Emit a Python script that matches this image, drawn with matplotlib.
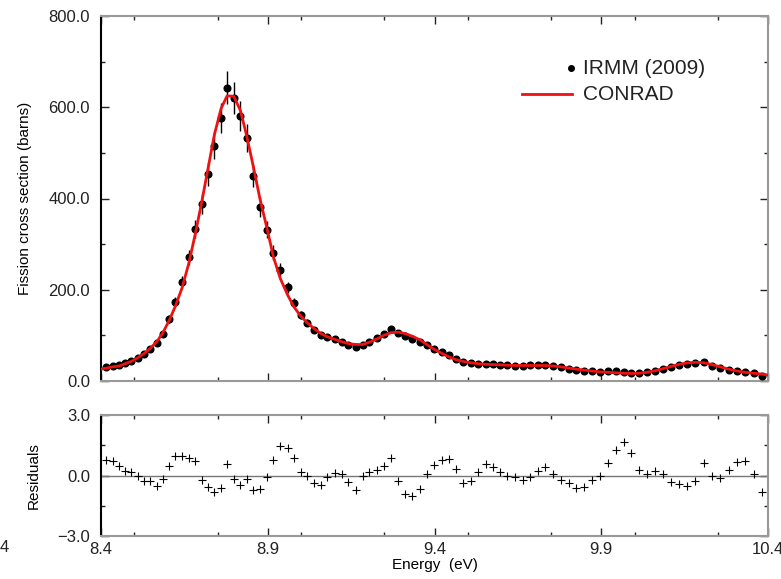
import numpy as np
import matplotlib
matplotlib.use('Agg')
import matplotlib.pyplot as plt
from matplotlib.ticker import MultipleLocator

plt.rcParams['font.family'] = ['Liberation Sans', 'DejaVu Sans']

# measured points (IRMM 2009)
energy = [8.415, 8.435, 8.455, 8.473, 8.491, 8.510, 8.529, 8.547, 8.567, 8.585,
          8.604, 8.623, 8.643, 8.663, 8.682, 8.702, 8.721, 8.740, 8.760, 8.778,
          8.798, 8.818, 8.837, 8.857, 8.877, 8.898, 8.917, 8.938, 8.960, 8.979,
          8.999, 9.019, 9.039, 9.059, 9.079, 9.102, 9.122, 9.142, 9.164, 9.185,
          9.205, 9.227, 9.248, 9.270, 9.292, 9.312, 9.334, 9.357, 9.377, 9.398,
          9.421, 9.443, 9.463, 9.486, 9.508, 9.531, 9.553, 9.574, 9.596, 9.618,
          9.641, 9.664, 9.686, 9.709, 9.732, 9.756, 9.779, 9.802, 9.825, 9.848,
          9.872, 9.896, 9.919, 9.943, 9.967, 9.990, 10.013, 10.037, 10.061, 10.085,
          10.109, 10.133, 10.157, 10.182, 10.207, 10.232, 10.257, 10.282, 10.307, 10.332,
          10.357, 10.382]
sigma = [30, 33, 34, 39, 44, 51, 59, 70, 83, 104,
         136, 174, 217, 271, 333, 388, 453, 516, 577, 643,
         620, 580, 532, 450, 381, 332, 281, 244, 205, 172,
         144, 128, 112, 101, 97, 92, 86, 79, 75, 80,
         86, 94, 103, 114, 105, 99, 92, 86, 78, 70,
         63, 56, 48, 42, 39, 38, 37, 37, 36, 34,
         33, 33, 34, 34, 36, 33, 30, 27, 24, 23,
         21, 19, 21, 21, 19, 18, 17, 19, 23, 27,
         31, 36, 38, 40, 42, 33, 29, 25, 22, 19,
         17, 12]
sigma_err = [2.7, 2.8, 2.9, 3.1, 3.4, 3.8, 4.2, 4.9, 5.6, 6.7,
             8.5, 10.6, 12.9, 15.9, 19.3, 22.3, 25.9, 29.4, 32.7, 36.4,
             35.1, 32.9, 30.3, 25.8, 22.0, 19.3, 16.5, 14.4, 12.3, 10.5,
             8.9, 8.0, 7.2, 6.6, 6.3, 6.1, 5.7, 5.3, 5.1, 5.4,
             5.7, 6.2, 6.7, 7.3, 6.8, 6.4, 6.1, 5.7, 5.3, 4.9,
             4.5, 4.1, 3.6, 3.3, 3.1, 3.1, 3.0, 3.0, 3.0, 2.9,
             2.8, 2.8, 2.9, 2.9, 3.0, 2.8, 2.7, 2.5, 2.3, 2.3,
             2.2, 2.0, 2.2, 2.2, 2.0, 2.0, 1.9, 2.0, 2.3, 2.5,
             2.7, 3.0, 3.1, 3.2, 3.3, 2.8, 2.6, 2.4, 2.2, 2.0,
             1.9, 1.7]

# CONRAD fit curve
fit_energy = [8.400] + energy + [10.400]
fit_sigma = [26, 28, 31, 33, 38, 43, 51, 60, 71, 86, 105,
             132, 164, 204, 257, 320, 392, 466, 540, 597, 625,
             624, 593, 537, 469, 398, 334, 272, 224, 188, 162,
             142, 127, 115, 104, 97, 91, 86, 82, 80, 80,
             85, 92, 100, 106, 107, 104, 98, 90, 80, 70,
             61, 53, 47, 43, 40, 38, 36.5, 36, 35.5, 34.5,
             34, 34, 34, 34, 34, 33, 31, 28.5, 26, 24,
             22, 20, 19, 18, 17, 16.5, 17, 19, 22.5, 27,
             32, 36.5, 39.5, 41, 40, 36, 31, 26, 22, 19,
             17, 15, 13]

residuals = [0.75, 0.70, 0.47, 0.22, 0.17, -0.03, -0.28, -0.28, -0.52, -0.17,
             0.47, 0.97, 0.97, 0.88, 0.70, -0.20, -0.58, -0.83, -0.62, 0.55,
             -0.17, -0.47, -0.17, -0.72, -0.68, -0.08, 0.75, 1.45, 1.37, 0.87,
             0.17, 0.00, -0.37, -0.45, -0.08, 0.12, 0.05, -0.33, -0.70, -0.03,
             0.17, 0.25, 0.45, 0.88, -0.28, -0.92, -1.00, -0.67, 0.05, 0.53,
             0.75, 0.80, 0.33, -0.35, -0.28, 0.17, 0.55, 0.42, 0.17, -0.03,
             -0.07, -0.20, -0.07, 0.23, 0.42, 0.05, -0.20, -0.37, -0.62, -0.55,
             -0.22, -0.03, 0.62, 1.28, 1.68, 1.13, 0.28, 0.08, 0.22, 0.05,
             -0.33, -0.42, -0.50, -0.28, 0.62, -0.03, -0.12, 0.25, 0.67, 0.73,
             0.05, -0.83]

x_ticks = [8.4, 8.9, 9.4, 9.9, 10.4]
red = '#ee1111'

W, H = 781, 579
fig = plt.figure(figsize=(W / 100, H / 100), dpi=100)
ax1 = fig.add_axes([101 / W, 1 - 381 / H, 667 / W, 365 / H])
ax2 = fig.add_axes([101 / W, 1 - 536 / H, 667 / W, 121 / H])

ax1.errorbar(energy, sigma, yerr=sigma_err, fmt='o', color='black', ms=4.8,
             elinewidth=1.0, capsize=0, zorder=3)
ax1.plot(fit_energy, fit_sigma, color=red, lw=2.0, zorder=4)

ax2.axhline(0, color='#777777', lw=1.0)
ax2.plot(energy, residuals, '+', color='black', ms=6, mew=0.8)

for ax in (ax1, ax2):
    ax.set_xlim(8.4, 10.4)
    ax.set_xticks(x_ticks)
    ax.xaxis.set_minor_locator(MultipleLocator(0.25))
    ax.tick_params(which='both', direction='in', top=True, right=True,
                   labelsize=12, colors='#222222')
    ax.tick_params(which='major', length=6, width=1.0)
    ax.tick_params(which='minor', length=3, width=1.0)
    ax.tick_params(axis='y', pad=8)
    ax.tick_params(axis='x', pad=4)
    for s in ('top', 'right', 'bottom'):
        ax.spines[s].set_color('#999999')
        ax.spines[s].set_linewidth(1.5)
    ax.spines['left'].set_color('black')
    ax.spines['left'].set_linewidth(1.5)

ax1.set_ylim(0, 800)
ax1.set_yticks([0, 200, 400, 600, 800])
ax1.set_yticklabels(['0.0', '200.0', '400.0', '600.0', '800.0'])
ax1.yaxis.set_minor_locator(MultipleLocator(100))
ax1.tick_params(axis='x', labelbottom=False)
ax1.set_ylabel('Fission cross section (barns)', fontsize=11, labelpad=12)

ax2.set_ylim(-3, 3)
ax2.set_yticks([-3, 0, 3])
ax2.set_yticklabels(['\u22123.0', '0.0', '3.0'])
ax2.yaxis.set_minor_locator(MultipleLocator(1.5))
ax2.set_xticklabels(['8.4', '8.9', '9.4', '9.9', '10.4'])
ax2.set_ylabel('Residuals', fontsize=11, labelpad=12)
ax2.set_xlabel('Energy  (eV)', fontsize=11, labelpad=1)

# legend drawn by hand: dot and red line with labels
ax1.plot([0.704], [0.8575], 'o', color='black', ms=4, transform=ax1.transAxes)
ax1.plot([0.631, 0.706], [0.786, 0.786], color=red, lw=2.0, transform=ax1.transAxes)
ax1.text(0.7226, 0.8575, 'IRMM (2009)', transform=ax1.transAxes, fontsize=15,
         va='center', ha='left', color='#222222')
ax1.text(0.7226, 0.786, 'CONRAD', transform=ax1.transAxes, fontsize=15,
         va='center', ha='left', color='#222222')

fig.text(0.0, 1 - 548 / H, '4', fontsize=12, color='#222222', va='center', ha='left')

fig.savefig('out.png', dpi=100)
